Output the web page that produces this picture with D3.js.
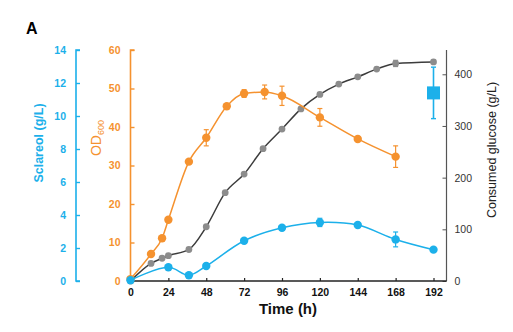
<!DOCTYPE html>
<html>
<head>
<meta charset="utf-8">
<title>Sclareol fermentation</title>
<script src="https://d3js.org/d3.v7.min.js"></script>
<style>
  body { margin: 0; background: #fff; }
  text { font-family: "Liberation Sans", Arial, sans-serif; }
</style>
</head>
<body>
<div id="chart"></div>
<script>
// time points (h) and measured series
const odTime = [0, 13, 20, 24, 37, 48, 61, 72, 85, 96, 120, 144, 168];
const odValue = [0.5, 7.0, 11.1, 15.9, 31.0, 37.2, 45.4, 48.7, 49.1, 48.1, 42.5, 36.9, 32.3];
const odErr = [0, 0, 0, 0, 0, 2.1, 0, 1.0, 1.8, 2.5, 2.3, 0.4, 2.8];

const glcTime = [0, 13, 20, 24, 37, 48, 60, 72, 84, 96, 108, 120, 132, 144, 156, 168, 192];
const glcValue = [0, 34, 44, 49, 61, 105, 171, 207, 256, 294, 333, 361, 381, 395, 410, 421, 424];
const glcErr = [0, 0, 0, 0, 0, 0, 0, 0, 0, 0, 0, 0, 0, 0, 0, 6, 0];

const sclTime = [0, 24, 37, 48, 72, 96, 120, 144, 168, 192];
const sclValue = [0.05, 0.83, 0.35, 0.91, 2.44, 3.23, 3.55, 3.39, 2.52, 1.9];
const sclErr = [0, 0, 0, 0, 0, 0, 0.25, 0.1, 0.45, 0];

// total sclareol recovered at the end of the run
const sclTotal = {time: 192, value: 11.4, err: 1.56};

const xTicks = [0, 24, 48, 72, 96, 120, 144, 168, 192];
const sclTicks = [0, 2, 4, 6, 8, 10, 12, 14];
const odTicks = [0, 10, 20, 30, 40, 50, 60];
const glcTicks = [0, 100, 200, 300, 400];

const blue = "#1cb0ea", orange = "#f5922f", grayMark = "#8c8c8c", grayLine = "#3c3c3c";

const W = 513, H = 332;
const svg = d3.select("#chart").append("svg")
  .attr("width", W).attr("height", H);

const x = d3.scaleLinear().domain([0, 192]).range([130.5, 433.5]);
const yScl = d3.scaleLinear().domain([0, 14]).range([281, 50]);
const yOd = d3.scaleLinear().domain([0, 60]).range([281, 50]);
const yGlc = d3.scaleLinear().domain([0, 447]).range([281, 50]);

// panel letter
svg.append("text").attr("x", 26).attr("y", 34)
  .attr("font-size", 16).attr("font-weight", "bold").text("A");

// left axes (ticks pointing inward)
function leftAxis(scale, ticks, xPos, color) {
  const g = svg.append("g").attr("transform", `translate(${xPos},0)`)
    .call(d3.axisRight(scale).tickValues(ticks).tickSize(4).tickFormat(d3.format("d")));
  g.select(".domain").attr("stroke", color).attr("stroke-width", 1.6)
    .attr("d", `M4,${scale.range()[1]}H0V${scale.range()[0]}H4`);
  g.selectAll(".tick line").attr("stroke", color).attr("stroke-width", 1.4);
  g.selectAll(".tick text").attr("fill", color).attr("x", -10)
    .attr("text-anchor", "end").attr("font-size", 10.5).attr("font-weight", "bold");
  return g;
}
leftAxis(yScl, sclTicks, 76, blue);
leftAxis(yOd, odTicks, 130.5, orange);

// right axis
const gR = svg.append("g").attr("transform", "translate(446.5,0)")
  .call(d3.axisLeft(yGlc).tickValues(glcTicks).tickSize(4));
gR.select(".domain").attr("stroke", "#555").attr("stroke-width", 1.2)
  .attr("d", `M0,${yGlc.range()[1]}V${yGlc.range()[0]}`);
gR.selectAll(".tick line").attr("stroke", "#555");
gR.selectAll(".tick text").attr("x", 8).attr("text-anchor", "start")
  .attr("fill", "#333").attr("font-size", 10.5);

// x axis
const gX = svg.append("g").attr("transform", "translate(0,281)")
  .call(d3.axisBottom(x).tickValues(xTicks).tickSize(0));
gX.select(".domain").attr("stroke", "#222").attr("stroke-width", 1.6)
  .attr("d", "M130.5,0H446.5");
gX.selectAll(".tick").append("line").attr("y1", 0).attr("y2", -3)
  .attr("stroke", "#222").attr("stroke-width", 1.2);
gX.selectAll(".tick text").attr("y", 8).attr("fill", "#111")
  .attr("font-size", 10.5).attr("font-weight", "bold");

// axis titles
svg.append("text").attr("transform", "translate(43,143) rotate(-90)")
  .attr("text-anchor", "middle").attr("fill", blue)
  .attr("font-size", 12.5).attr("font-weight", "bold").text("Sclareol (g/L)");

const odLabel = svg.append("text").attr("transform", "translate(101,138) rotate(-90)")
  .attr("text-anchor", "middle").attr("fill", orange).attr("font-size", 14);
odLabel.append("tspan").text("OD");
odLabel.append("tspan").attr("font-size", 9).attr("dy", 3).text("600");

svg.append("text").attr("transform", "translate(496,150) rotate(-90)")
  .attr("text-anchor", "middle").attr("fill", "#222")
  .attr("font-size", 12.5).text("Consumed glucose (g/L)");

svg.append("text").attr("x", 288).attr("y", 314).attr("text-anchor", "middle")
  .attr("font-size", 15).attr("font-weight", "bold").attr("fill", "#111").text("Time (h)");

// series drawing
function drawSeries(times, values, errs, scale, lineColor, markColor, r, curve) {
  const data = times.map((t, i) => ({t: t, v: values[i], e: errs[i]}));
  const line = d3.line().x(d => x(d.t)).y(d => scale(d.v)).curve(curve);
  const g = svg.append("g");
  g.append("path").datum(data).attr("d", line)
    .attr("fill", "none").attr("stroke", lineColor).attr("stroke-width", 1.5);
  const eb = g.selectAll(".err").data(data.filter(d => d.e > 0)).enter().append("g");
  eb.append("line").attr("x1", d => x(d.t)).attr("x2", d => x(d.t))
    .attr("y1", d => scale(d.v - d.e)).attr("y2", d => scale(d.v + d.e))
    .attr("stroke", markColor).attr("stroke-width", 1.2);
  [-1, 1].forEach(s => {
    eb.append("line").attr("x1", d => x(d.t) - 2.5).attr("x2", d => x(d.t) + 2.5)
      .attr("y1", d => scale(d.v + s * d.e)).attr("y2", d => scale(d.v + s * d.e))
      .attr("stroke", markColor).attr("stroke-width", 1.2);
  });
  g.selectAll(".dot").data(data).enter().append("circle")
    .attr("cx", d => x(d.t)).attr("cy", d => scale(d.v)).attr("r", r)
    .attr("fill", markColor);
}

drawSeries(glcTime, glcValue, glcErr, yGlc, grayLine, grayMark, 3.4, d3.curveMonotoneX);
drawSeries(odTime, odValue, odErr, yOd, orange, orange, 4.2, d3.curveMonotoneX);
drawSeries(sclTime, sclValue, sclErr, yScl, blue, blue, 4.2, d3.curveCatmullRom.alpha(0.5));

// total titer marker with error bar
const sq = svg.append("g");
sq.append("line").attr("x1", x(sclTotal.time)).attr("x2", x(sclTotal.time))
  .attr("y1", yScl(sclTotal.value - sclTotal.err)).attr("y2", yScl(sclTotal.value + sclTotal.err))
  .attr("stroke", blue).attr("stroke-width", 1.6);
[-1, 1].forEach(s => {
  sq.append("line").attr("x1", x(sclTotal.time) - 2.5).attr("x2", x(sclTotal.time) + 2.5)
    .attr("y1", yScl(sclTotal.value + s * sclTotal.err)).attr("y2", yScl(sclTotal.value + s * sclTotal.err))
    .attr("stroke", blue).attr("stroke-width", 1.4);
});
sq.append("rect").attr("x", x(sclTotal.time) - 6.5).attr("y", yScl(sclTotal.value) - 6.5)
  .attr("width", 13).attr("height", 13).attr("fill", blue);
</script>
</body>
</html>
